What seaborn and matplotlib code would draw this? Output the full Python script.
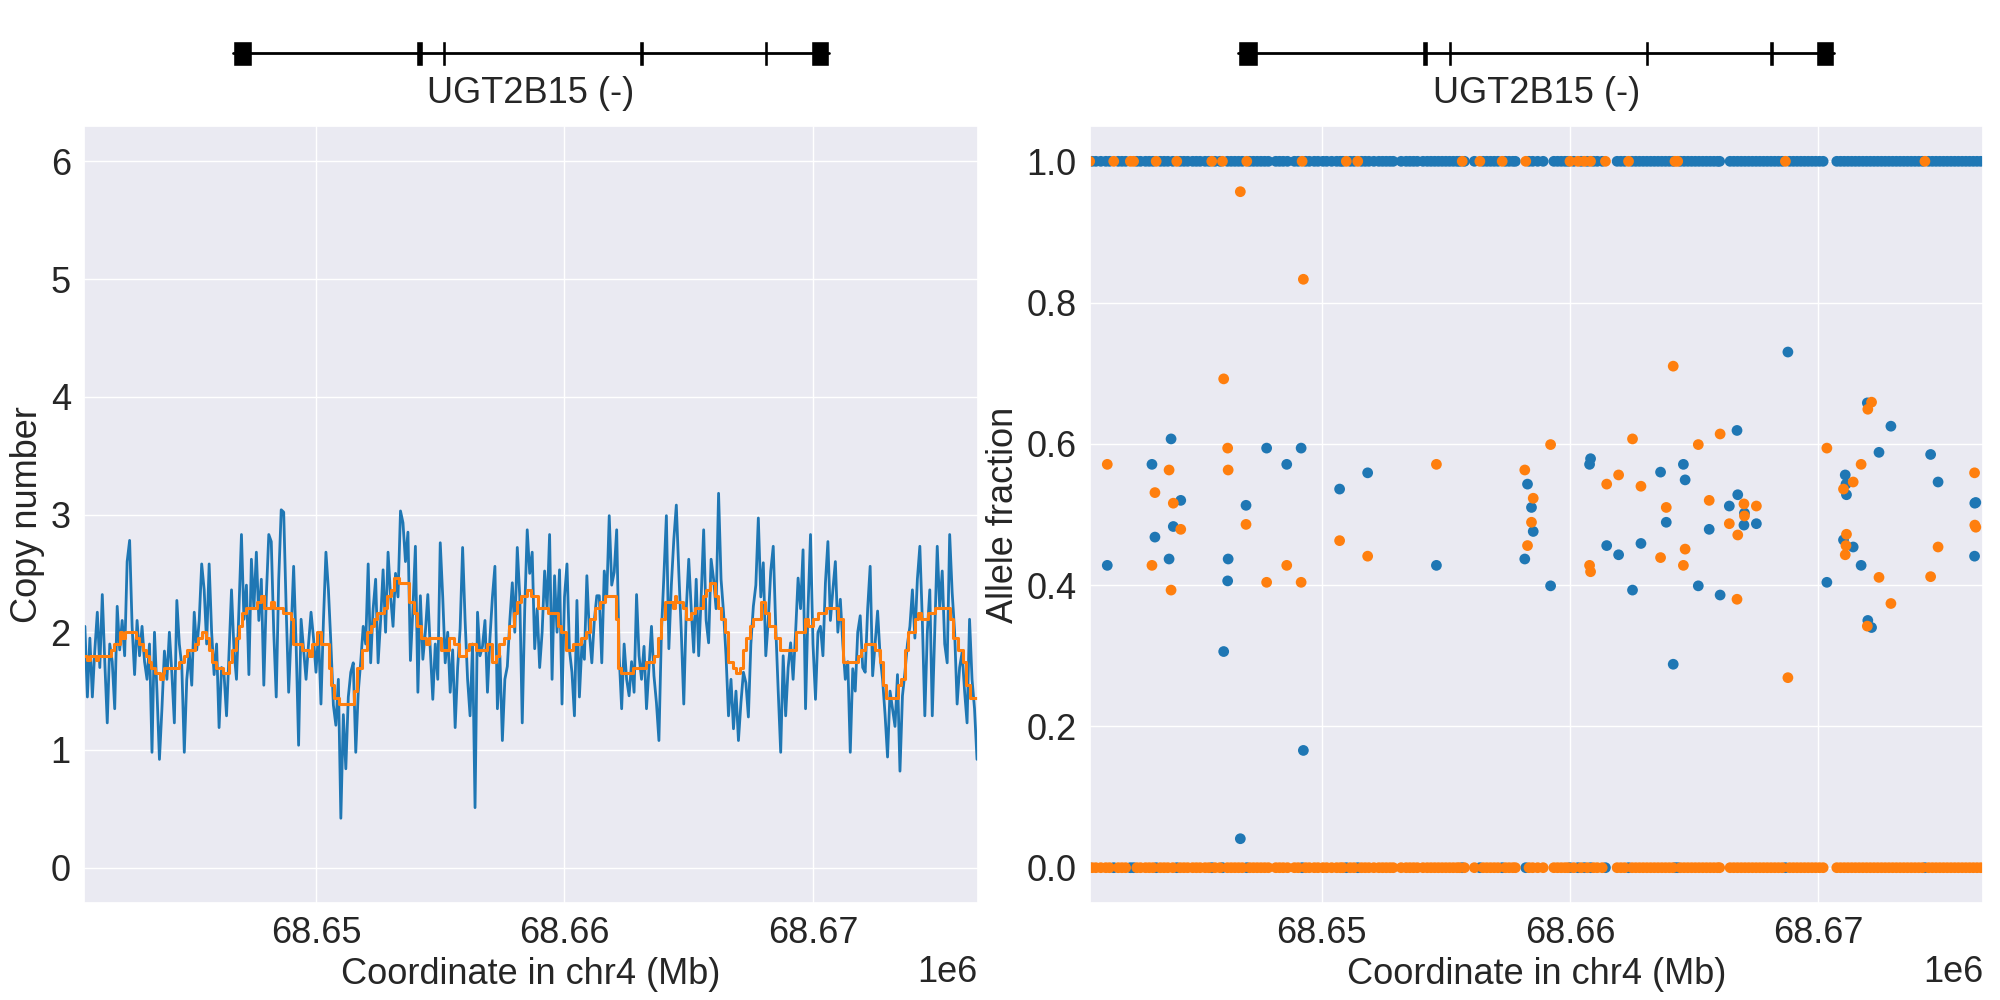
import numpy as np
import pandas as pd
import seaborn as sns
import matplotlib.pyplot as plt
from matplotlib.ticker import MultipleLocator

# all positions below are kb from 68.64 Mb on chr4
base_bp = 68640000
xlim_bp = (68640664, 68676640)

gene_name = "UGT2B15 (-)"
gene_start_kb, gene_end_kb = 6.641, 30.652
exon_start_kb = [6.641, 14.02, 15.07, 23.01, 28.03, 29.90]
exon_end_kb = [7.420, 14.30, 15.24, 23.18, 28.20, 30.652]

# copy number in 100 bp bins, first bin at 0.7 kb
cn_start_kb = 0.7
cn_bin_kb = 0.1
copy_number = [
    2.05, 1.45, 1.95, 1.45, 1.85, 2.17, 1.70, 2.32, 1.75, 1.23,
    1.90, 1.75, 1.35, 2.22, 1.85, 2.10, 1.80, 2.60, 2.78, 2.05,
    1.64, 2.10, 1.80, 2.05, 1.75, 1.60, 1.90, 0.98, 2.00, 1.50,
    0.92, 1.35, 1.84, 1.60, 2.00, 1.65, 1.23, 2.27, 1.90, 1.71,
    0.98, 1.60, 1.83, 1.55, 2.17, 1.85, 2.10, 2.58, 2.36, 1.90,
    2.58, 2.00, 1.64, 1.90, 1.19, 1.70, 1.64, 1.29, 1.83, 2.36,
    1.85, 1.60, 2.20, 2.83, 2.11, 2.40, 1.64, 2.62, 2.20, 2.68,
    2.10, 2.45, 1.55, 2.30, 2.83, 2.77, 2.00, 1.45, 2.45, 3.04,
    3.02, 2.20, 1.49, 2.00, 2.56, 1.90, 1.04, 2.11, 1.85, 1.60,
    1.90, 2.17, 1.95, 1.66, 2.00, 1.39, 2.10, 2.68, 2.36, 1.90,
    1.38, 1.21, 1.60, 0.42, 1.30, 0.84, 1.45, 1.66, 1.74, 0.98,
    1.49, 1.75, 2.05, 1.90, 2.58, 1.74, 2.20, 2.45, 1.74, 2.10,
    2.53, 2.00, 2.68, 2.31, 2.05, 2.50, 2.30, 3.03, 2.93, 2.60,
    2.85, 1.76, 2.20, 2.73, 1.49, 2.31, 1.77, 2.00, 2.32, 1.85,
    1.43, 1.90, 1.60, 2.76, 2.30, 1.74, 2.00, 1.49, 1.85, 1.19,
    1.70, 2.03, 2.72, 2.10, 1.60, 1.29, 1.90, 0.51, 2.17, 1.80,
    1.88, 2.10, 1.49, 1.95, 2.30, 2.56, 1.35, 1.80, 1.08, 1.60,
    1.71, 2.10, 2.42, 2.00, 2.72, 2.30, 1.23, 2.20, 2.87, 2.50,
    2.68, 1.86, 2.20, 1.70, 2.00, 2.52, 2.20, 2.83, 1.60, 2.48,
    2.00, 2.53, 1.39, 2.30, 2.58, 1.85, 1.66, 1.29, 2.27, 1.45,
    1.90, 1.77, 2.48, 2.00, 1.74, 2.10, 2.31, 2.31, 1.74, 2.52,
    2.30, 2.99, 2.40, 2.51, 2.87, 1.80, 1.35, 1.90, 1.60, 1.46,
    1.75, 1.49, 2.32, 1.80, 1.60, 1.88, 1.35, 1.70, 2.05, 1.63,
    1.40, 1.08, 2.00, 2.48, 2.99, 1.86, 2.40, 2.79, 3.08, 2.51,
    2.00, 1.39, 2.19, 2.62, 2.20, 1.83, 2.45, 1.80, 2.30, 2.87,
    2.10, 1.91, 2.62, 2.45, 2.20, 3.18, 2.45, 2.17, 1.80, 1.29,
    1.60, 1.18, 1.50, 1.08, 1.40, 1.66, 1.57, 1.28, 1.90, 2.22,
    2.40, 2.97, 2.30, 2.59, 1.80, 2.10, 2.52, 2.73, 2.05, 1.50,
    0.98, 1.80, 1.29, 1.70, 1.91, 1.60, 2.00, 2.46, 2.20, 2.70,
    1.35, 2.20, 2.83, 1.90, 1.43, 2.00, 2.05, 1.80, 2.42, 2.77,
    2.10, 2.36, 2.60, 2.00, 2.28, 1.90, 1.60, 1.75, 0.98, 1.69,
    1.50, 2.00, 2.14, 1.70, 1.66, 2.20, 2.56, 1.63, 1.90, 2.18,
    1.80, 1.60, 1.30, 0.94, 1.50, 1.35, 1.20, 1.64, 0.82, 1.46,
    1.66, 1.90, 2.05, 2.36, 1.95, 2.45, 2.73, 2.10, 1.29, 2.00,
    2.36, 1.29, 2.00, 2.73, 2.20, 2.52, 1.90, 1.74, 2.83, 2.34,
    2.00, 1.39, 1.70, 1.83, 1.50, 1.23, 2.11, 1.60, 1.35, 0.92,
]

# smoothed copy number: (segment start kb, value)
cn_smooth = [
    (0.66, 1.80), (0.80, 1.76), (0.91, 1.80), (1.13, 1.76), (1.23, 1.80),
    (1.74, 1.85), (1.87, 1.90), (2.11, 2.00), (2.21, 1.95), (2.30, 2.00),
    (2.74, 1.95), (2.88, 1.90), (3.05, 1.85), (3.15, 1.80), (3.28, 1.75),
    (3.35, 1.70), (3.51, 1.65), (3.72, 1.60), (3.83, 1.65), (3.88, 1.70),
    (4.49, 1.75), (4.69, 1.80), (4.82, 1.85), (5.12, 1.90), (5.25, 1.95),
    (5.43, 2.00), (5.56, 1.95), (5.69, 1.85), (5.83, 1.75), (5.96, 1.70),
    (6.27, 1.65), (6.50, 1.75), (6.63, 1.85), (6.77, 1.95), (6.90, 2.05),
    (7.04, 2.16), (7.17, 2.21), (7.64, 2.26), (7.77, 2.31), (7.91, 2.21),
    (8.18, 2.26), (8.31, 2.21), (8.69, 2.16), (8.98, 2.11), (9.09, 1.90),
    (9.45, 1.85), (9.72, 1.80), (9.85, 1.90), (10.05, 2.00), (10.21, 1.90),
    (10.52, 1.70), (10.62, 1.55), (10.72, 1.44), (10.93, 1.39), (11.53, 1.50),
    (11.66, 1.70), (11.86, 1.85), (12.07, 2.00), (12.20, 2.05), (12.33, 2.11),
    (12.47, 2.16), (12.74, 2.21), (12.87, 2.31), (13.01, 2.36), (13.14, 2.46),
    (13.34, 2.42), (13.74, 2.26), (13.94, 2.16), (14.08, 2.05), (14.21, 1.95),
    (14.41, 1.90), (14.55, 1.95), (15.02, 1.85), (15.35, 1.95), (15.55, 1.90),
    (15.75, 1.80), (16.02, 1.85), (16.16, 1.90), (16.43, 1.85), (16.89, 1.90),
    (17.10, 1.75), (17.23, 1.80), (17.36, 1.90), (17.57, 1.95), (17.77, 2.05),
    (17.97, 2.16), (18.10, 2.26), (18.24, 2.31), (18.50, 2.36), (18.64, 2.31),
    (18.93, 2.21), (19.33, 2.16), (19.74, 2.05), (19.87, 2.00), (20.07, 1.85),
    (20.34, 1.90), (20.68, 1.95), (20.88, 2.00), (21.01, 2.11), (21.21, 2.21),
    (21.41, 2.26), (21.61, 2.31), (22.08, 2.11), (22.15, 1.70), (22.29, 1.65),
    (22.76, 1.70), (23.29, 1.75), (23.60, 1.80), (23.76, 1.95), (23.90, 2.11),
    (24.03, 2.26), (24.37, 2.21), (24.43, 2.31), (24.50, 2.26), (24.77, 2.21),
    (24.90, 2.11), (25.10, 2.16), (25.24, 2.21), (25.57, 2.31), (25.71, 2.36),
    (25.84, 2.42), (26.04, 2.31), (26.18, 2.21), (26.31, 2.11), (26.44, 2.00),
    (26.58, 1.75), (26.78, 1.70), (26.91, 1.65), (27.05, 1.70), (27.18, 1.85),
    (27.32, 1.95), (27.45, 2.05), (27.58, 2.11), (27.92, 2.26), (28.08, 2.16),
    (28.21, 2.05), (28.46, 1.95), (28.66, 1.85), (29.33, 2.00), (29.66, 2.11),
    (29.80, 2.05), (30.00, 2.11), (30.20, 2.16), (30.53, 2.21), (31.00, 2.11),
    (31.21, 1.75), (31.81, 1.80), (31.94, 1.85), (32.08, 1.90), (32.48, 1.85),
    (32.68, 1.75), (32.82, 1.55), (32.95, 1.44), (33.42, 1.55), (33.55, 1.60),
    (33.69, 1.85), (33.82, 2.00), (34.09, 2.11), (34.22, 2.16), (34.36, 2.11),
    (34.63, 2.16), (34.90, 2.21), (35.50, 2.11), (35.63, 1.95), (35.83, 1.85),
    (36.04, 1.75), (36.17, 1.55), (36.30, 1.44), (36.64, 1.44),
]

# homozygous sites: blue allele = 1 (orange = 0) and orange allele = 1 (blue = 0)
hom_blue_kb = [
    0.55, 0.75, 0.90, 1.10, 1.30, 1.45, 1.80, 1.95, 2.10, 2.55, 2.70, 2.90, 3.05,
    3.20, 3.50, 3.65, 3.80, 4.00, 4.30, 4.45, 4.60, 4.80, 4.95, 5.10, 5.30, 5.45,
    5.70, 5.90, 6.20, 6.35, 6.50, 6.65, 6.80, 7.10, 7.25, 7.40, 7.55, 7.70, 7.85,
    8.15, 8.30, 8.45, 8.62,
    8.90, 9.05, 9.35, 9.50, 9.70, 9.85, 10.05, 10.20, 10.40, 10.60, 10.75, 10.85,
    11.15, 11.30, 11.60, 11.75, 11.90, 12.10, 12.30, 12.45, 12.60, 12.75, 12.88,
    13.20, 13.40, 13.55, 13.70, 13.85,
    14.08, 14.25, 14.40, 14.55, 14.70, 14.85, 15.00, 15.15, 15.30, 15.45, 15.55, 15.75,
    16.15, 16.50, 16.65, 16.80, 16.95, 17.10, 17.40, 17.55, 17.70, 17.80,
    18.35, 18.50, 18.70, 18.92,
    19.35, 19.50, 19.65, 19.80, 19.92, 20.15, 20.45, 20.70, 20.95, 21.10, 21.30,
    21.90, 22.05, 22.20, 22.50, 22.65, 22.80, 22.95, 23.10, 23.25, 23.40, 23.55,
    23.70, 23.85, 24.00, 24.15, 24.45, 24.60, 24.75, 24.90, 25.05, 25.20, 25.35,
    25.50, 25.65, 25.80, 25.95, 26.03,
    26.45, 26.60, 26.75, 26.90, 27.05, 27.20, 27.35, 27.50, 27.65, 27.80, 27.95,
    28.10, 28.25, 28.40, 28.55, 28.85, 29.00, 29.15, 29.30, 29.45, 29.60, 29.75,
    29.90, 30.05, 30.20,
    30.75, 30.90, 31.05, 31.20, 31.35, 31.50, 31.65, 31.80, 31.95, 32.10, 32.25,
    32.40, 32.55, 32.70, 32.85, 33.00, 33.15, 33.30, 33.45, 33.60, 33.75, 33.90,
    34.05, 34.20, 34.45, 34.60, 34.75, 34.90, 35.05, 35.20, 35.35, 35.50, 35.65,
    35.80, 35.95, 36.10, 36.25, 36.40, 36.55,
]
hom_orange_kb = [
    0.65, 1.62, 2.29, 2.42, 3.33, 4.16, 5.57, 6.00, 6.98, 9.21, 10.99, 11.45,
    15.66, 16.37, 17.27, 18.22, 20.00, 20.32, 20.58, 20.83, 21.43, 22.36, 24.23,
    24.34, 28.68, 34.30,
]

# heterozygous sites
het_kb = [
    1.36, 3.16, 3.28, 3.85, 3.93, 4.02, 4.32, 6.05, 6.21, 6.23,
    6.72, 6.95, 7.78, 8.59, 9.17, 9.26, 10.72, 11.85, 14.62, 18.18,
    18.29, 18.45, 18.52, 19.22, 20.79, 20.83, 21.48, 21.96, 22.52, 22.86,
    23.65, 23.88, 24.16, 24.57, 24.64, 25.17, 25.61, 26.05, 26.42, 26.73,
    26.76, 27.01, 27.03, 27.51, 28.78, 30.35, 31.02, 31.09, 31.12, 31.14,
    31.41, 31.73, 31.98, 32.00, 32.15, 32.45, 32.93, 34.53, 34.83, 36.30,
    36.31, 36.35,
]
het_blue = [
    0.428, 0.571, 0.468, 0.437, 0.607, 0.483, 0.520, 0.306, 0.406, 0.437,
    0.041, 0.513, 0.594, 0.571, 0.594, 0.166, 0.536, 0.559, 0.428, 0.437,
    0.543, 0.510, 0.476, 0.399, 0.571, 0.579, 0.456, 0.443, 0.393, 0.459,
    0.560, 0.489, 0.288, 0.571, 0.549, 0.399, 0.479, 0.386, 0.512, 0.619,
    0.528, 0.485, 0.502, 0.487, 0.730, 0.404, 0.464, 0.556, 0.543, 0.528,
    0.454, 0.428, 0.658, 0.350, 0.340, 0.588, 0.625, 0.585, 0.546, 0.441,
    0.516, 0.517,
]
het_orange = [
    0.571, 0.428, 0.531, 0.563, 0.393, 0.516, 0.479, 0.692, 0.594, 0.563,
    0.957, 0.486, 0.404, 0.428, 0.404, 0.833, 0.463, 0.441, 0.571, 0.563,
    0.456, 0.489, 0.523, 0.599, 0.428, 0.419, 0.543, 0.556, 0.607, 0.540,
    0.439, 0.510, 0.710, 0.428, 0.451, 0.599, 0.520, 0.614, 0.487, 0.380,
    0.471, 0.515, 0.498, 0.512, 0.269, 0.594, 0.536, 0.443, 0.456, 0.472,
    0.546, 0.571, 0.342, 0.649, 0.659, 0.411, 0.374, 0.412, 0.454, 0.559,
    0.485, 0.482,
]

blue = "#1f77b4"
orange = "#ff7f0e"
fs = 26


def to_bp(kb):
    return base_bp + np.asarray(kb) * 1000.0


cn_pos = to_bp(cn_start_kb + cn_bin_kb * np.arange(len(copy_number)))
seg_kb, seg_cn = zip(*cn_smooth)

n_b, n_o = len(hom_blue_kb), len(hom_orange_kb)
site_kb = hom_blue_kb + hom_orange_kb + het_kb
af = pd.DataFrame({
    "pos": np.concatenate([to_bp(site_kb), to_bp(site_kb)]),
    "frac": [1.0] * n_b + [0.0] * n_o + het_blue + [0.0] * n_b + [1.0] * n_o + het_orange,
    "allele": ["a"] * len(site_kb) + ["b"] * len(site_kb),
})

sns.set_theme(style="darkgrid", context="notebook")
plt.rcParams["font.family"] = ["Liberation Sans", "DejaVu Sans"]
plt.rcParams.update({"font.size": fs, "axes.labelsize": fs,
                     "xtick.labelsize": fs, "ytick.labelsize": fs})

fig = plt.figure(figsize=(20, 10), dpi=100)
ax_cn = fig.add_axes([0.042, 0.097, 0.447, 0.777])
ax_af = fig.add_axes([0.545, 0.097, 0.4465, 0.777])
gene_cn = fig.add_axes([0.042, 0.885, 0.447, 0.095])
gene_af = fig.add_axes([0.545, 0.885, 0.4465, 0.095])

# copy number panel
sns.lineplot(x=cn_pos, y=copy_number, ax=ax_cn, color=blue, lw=2.0)
sns.lineplot(x=to_bp(seg_kb), y=seg_cn, ax=ax_cn, color=orange, lw=2.2,
             drawstyle="steps-post")
ax_cn.set_ylim(-0.3, 6.3)
ax_cn.set_ylabel("Copy number")

# allele fraction panel
sns.scatterplot(data=af, x="pos", y="frac", hue="allele", palette=[blue, orange],
                ax=ax_af, s=60, linewidth=0, legend=False)
ax_af.set_ylim(-0.05, 1.05)
ax_af.set_ylabel("Allele fraction")

for ax in (ax_cn, ax_af):
    ax.set_xlim(*xlim_bp)
    ax.xaxis.set_major_locator(MultipleLocator(10000))
    ax.ticklabel_format(axis="x", style="sci", scilimits=(6, 6), useOffset=False)
    ax.set_xlabel("Coordinate in chr4 (Mb)")

# gene model above each panel
for gax in (gene_cn, gene_af):
    gax.set_xlim(*xlim_bp)
    gax.set_ylim(0, 1)
    gax.axis("off")
    gax.plot(to_bp([gene_start_kb, gene_end_kb]), [0.65, 0.65], color="black", lw=2.0)
    bars = [(s, e - s) for s, e in zip(to_bp(exon_start_kb), to_bp(exon_end_kb))]
    gax.broken_barh(bars, (0.515, 0.265), facecolors="black")
    gax.text(to_bp((gene_start_kb + gene_end_kb) / 2), 0.23, gene_name,
             ha="center", va="center", fontsize=fs)

fig.savefig("out.png", dpi=100)
